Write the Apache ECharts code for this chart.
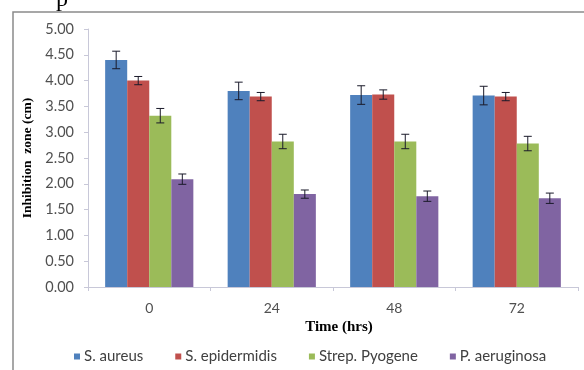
<!DOCTYPE html>
<html><head><meta charset="utf-8">
<script src="https://cdn.jsdelivr.net/npm/echarts@6/dist/echarts.min.js"></script>
<style>html,body{margin:0;padding:0;background:#fff}#c{width:584px;height:370px}</style>
</head><body><div id="c"></div>
<script>
const categories = ['0', '24', '48', '72'];
const seriesNames = ['S. aureus', 'S. epidermidis', 'Strep. Pyogene', 'P. aeruginosa'];
const aureus = [4.40, 3.80, 3.72, 3.71];
const epidermidis = [4.00, 3.69, 3.73, 3.69];
const pyogene = [3.32, 2.82, 2.82, 2.78];
const aeruginosa = [2.09, 1.80, 1.76, 1.72];
const aureusErr = [0.17, 0.17, 0.18, 0.18];
const epidermidisErr = [0.08, 0.08, 0.09, 0.08];
const pyogeneErr = [0.14, 0.14, 0.14, 0.14];
const aeruginosaErr = [0.10, 0.08, 0.10, 0.10];
const yTicks = ['0.00','0.50','1.00','1.50','2.00','2.50','3.00','3.50','4.00','4.50','5.00'];

const colors = ['#4F81BD', '#C0504D', '#9BBB59', '#8064A2'];
const values = [aureus, epidermidis, pyogene, aeruginosa];
const errs = [aureusErr, epidermidisErr, pyogeneErr, aeruginosaErr];
const catGap = 0.28;

const chart = echarts.init(document.getElementById('c'), null, {renderer: 'canvas'});
const series = [];
values.forEach((v, i) => {
  series.push({
    name: seriesNames[i], type: 'bar', data: v,
    barGap: '0%', barCategoryGap: (catGap * 100) + '%',
    itemStyle: {color: colors[i]}, emphasis: {disabled: true}
  });
});
values.forEach((v, i) => {
  series.push({
    type: 'custom', name: seriesNames[i] + ' err', z: 10,
    data: v.map((val, j) => [j, val - errs[i][j], val + errs[i][j]]),
    renderItem: function (params, api) {
      const idx = api.value(0);
      const lo = api.coord([idx, api.value(1)]);
      const hi = api.coord([idx, api.value(2)]);
      const band = api.size([1, 0])[0];
      const bw = band * (1 - catGap) / 4;
      const x = lo[0] + (i - 1.5) * bw;
      const cap = 4;
      const st = {stroke: '#1a1a2a', lineWidth: 1};
      return {type: 'group', children: [
        {type: 'line', shape: {x1: x, y1: lo[1], x2: x, y2: hi[1]}, style: st},
        {type: 'line', shape: {x1: x - cap, y1: hi[1], x2: x + cap, y2: hi[1]}, style: st},
        {type: 'line', shape: {x1: x - cap, y1: lo[1], x2: x + cap, y2: lo[1]}, style: st}
      ]};
    },
    encode: {x: 0, y: [1, 2]}, silent: true
  });
});

chart.setOption({
  animation: false,
  grid: {left: 88, right: 6, top: 29, bottom: 83, containLabel: false},
  legend: {
    data: seriesNames, left: 69, top: 344, icon: 'rect', itemWidth: 6, itemHeight: 6,
    itemGap: 32, textStyle: {fontFamily: 'Lato', fontSize: 15, color: '#404040', padding: [0, 0, 0, -1]}
  },
  graphic: [
    {type: 'rect', shape: {x: 13, y: 12, width: 600, height: 400}, style: {fill: 'none', stroke: '#8a8a8a', lineWidth: 1.5}, z: -1},
    {type: 'text', left: 56, top: -12, style: {text: 'p', font: '24px "Liberation Serif"', fill: '#000'}}
  ],
  xAxis: {
    type: 'category', data: categories, name: 'Time (hrs)', nameLocation: 'middle', nameGap: 33,
    nameTextStyle: {fontFamily: 'Liberation Serif', fontWeight: 'bold', fontSize: 15, color: '#000', padding: [0, 0, 0, 12]},
    axisLine: {lineStyle: {color: '#c8c8d8'}},
    axisTick: {show: true, length: 4, lineStyle: {color: '#c8c8d8'}},
    axisLabel: {fontFamily: 'Lato', fontSize: 14, color: '#505050', margin: 14}
  },
  yAxis: {
    type: 'value', min: 0, max: 5, interval: 0.5,
    name: 'Inhibition  zone (cm)', nameLocation: 'middle', nameGap: 51,
    nameTextStyle: {fontFamily: 'Liberation Serif', fontWeight: 'bold', fontSize: 13.5, color: '#000'},
    axisLine: {show: true, lineStyle: {color: '#c8c8d8'}},
    axisTick: {show: true, length: 4, lineStyle: {color: '#c8c8d8'}},
    splitLine: {show: false},
    axisLabel: {fontFamily: 'Lato', fontSize: 14.5, color: '#505050', margin: 14,
      formatter: function (v) { return yTicks[Math.round(v / 0.5)]; }}
  },
  series: series
});
</script></body></html>
